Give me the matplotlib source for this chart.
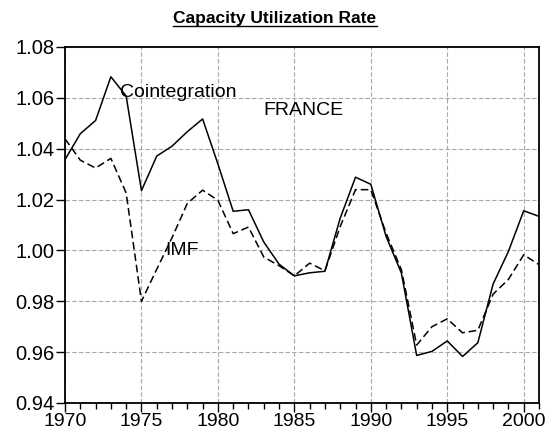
import matplotlib
matplotlib.use("Agg")
from matplotlib import pyplot as plt
from matplotlib.lines import Line2D

plt.rcParams['font.family'] = ['Liberation Sans', 'DejaVu Sans']

#----------Capacity utilization, France----------#
years = list(range(1970, 2002))

# Cointegration estimate
coint = [1.0357, 1.0459, 1.0511, 1.0683, 1.0607, 1.0235, 1.0371, 1.0410,
         1.0467, 1.0517, 1.0340, 1.0154, 1.0160, 1.0033, 0.9946, 0.9900,
         0.9912, 0.9918, 1.0127, 1.0288, 1.0260, 1.0055, 0.9911, 0.9587,
         0.9603, 0.9644, 0.9583, 0.9637, 0.9868, 0.9996, 1.0156, 1.0134]

# IMF estimate
imf = [1.0439, 1.0355, 1.0324, 1.0362, 1.0226, 0.9800, 0.9926, 1.0050,
       1.0185, 1.0237, 1.0197, 1.0066, 1.0092, 0.9974, 0.9940, 0.9900,
       0.9950, 0.9920, 1.0094, 1.0239, 1.0239, 1.0068, 0.9924, 0.9628,
       0.9700, 0.9731, 0.9676, 0.9686, 0.9828, 0.9886, 0.9983, 0.9944]

x_ticks = [1970, 1975, 1980, 1985, 1990, 1995, 2000]
y_ticks = [0.94, 0.96, 0.98, 1.00, 1.02, 1.04, 1.06, 1.08]

#----------Plot----------#
fig = plt.figure(figsize=(5.54, 4.37), dpi=100)
ax = fig.add_axes([65/554, 1 - 403/437, (539-65)/554, (403-47)/437])

ax.plot(years, coint, color='black', linewidth=1.1)
ax.plot(years, imf, color='black', linewidth=1.1, linestyle=(0, (5, 2.5)))

ax.set_xlim(1970, 2001)
ax.set_ylim(0.94, 1.08)
ax.set_xticks(x_ticks)
ax.set_xticks(years, minor=True)
ax.set_yticks(y_ticks)
ax.set_yticklabels([f"{v:.2f}" for v in y_ticks])
ax.tick_params(axis='both', which='major', direction='out', length=6.5,
               width=1, labelsize=14, colors='black')
ax.tick_params(axis='y', which='major', labelsize=14.5, pad=1)
ax.tick_params(axis='x', which='minor', direction='out', length=4, width=1)
ax.tick_params(axis='x', which='major', pad=1)

ax.grid(True, which='major', color='#a8a8a8', linestyle=(0, (4, 2)),
        linewidth=0.8)
for s in ax.spines.values():
    s.set_linewidth(1.3)

# Labels inside the plot
ax.text(1973.6, 1.0605, "Cointegration", fontsize=14, va='baseline')
ax.text(1983.0, 1.0533, "FRANCE", fontsize=14, va='baseline')
ax.text(1976.55, 0.9983, "IMF", fontsize=14, va='baseline')

# Title, bold and underlined
title = fig.text(275/554, 1 - 22.7/437, "Capacity Utilization Rate",
                 fontsize=12.5, fontweight='bold', ha='center', va='baseline')
fig.canvas.draw()
bb = title.get_window_extent()
uy = 1 - 25.5/437
fig.add_artist(Line2D([bb.x0/fig.bbox.width, bb.x1/fig.bbox.width], [uy, uy],
                      transform=fig.transFigure, color='black', linewidth=1))

fig.savefig("out.png", dpi=100)
